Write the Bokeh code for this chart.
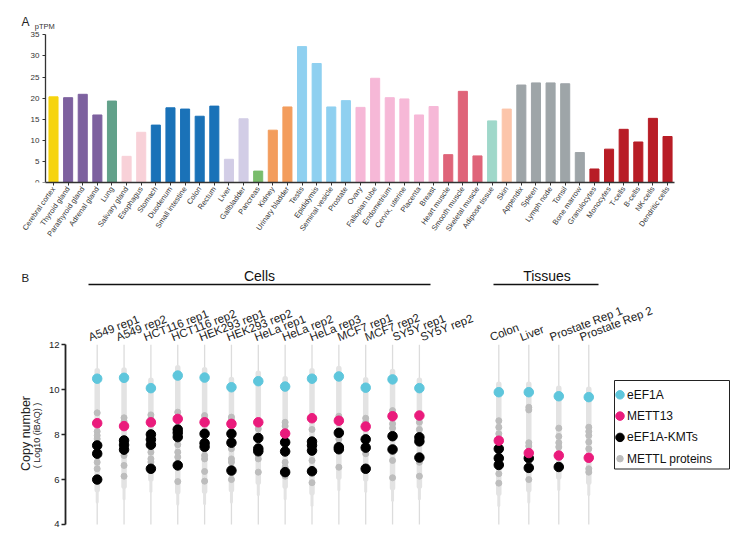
import math
from bokeh.plotting import figure
from bokeh.models import Range1d, FixedTicker, ColumnDataSource
from bokeh.layouts import column
from bokeh.embed import file_html
from bokeh.resources import INLINE
from bokeh.core.properties import value

# ---------------- Panel A data ----------------
tissues = ["Cerebral cortex", "Thyroid gland", "Parathyroid gland", "Adrenal gland", "Lung",
           "Salivary gland", "Esophagus", "Stomach", "Duodenum", "Small intestine", "Colon",
           "Rectum", "Liver", "Gallbladder", "Pancreas", "Kidney", "Urinary bladder", "Testis",
           "Epididymis", "Seminal vesicle", "Prostate", "Ovary", "Fallopian tube", "Endometrium",
           "Cervix, uterine", "Placenta", "Breast", "Heart muscle", "Smooth muscle",
           "Skeletal muscle", "Adipose tissue", "Skin", "Appendix", "Spleen", "Lymph node",
           "Tonsil", "Bone marrow", "Granulocytes", "Monocytes", "T-cells", "B-cells",
           "NK-cells", "Dendritic cells"]
ptpm = [20.3, 20.1, 20.9, 16.0, 19.3, 6.2, 11.9, 13.6, 17.7, 17.4, 15.7, 18.1, 5.5, 15.1, 2.7,
        12.4, 17.9, 32.2, 28.2, 17.9, 19.4, 17.8, 24.7, 20.1, 19.8, 16.0, 18.0, 6.6, 21.6, 6.3,
        14.6, 17.4, 23.1, 23.6, 23.6, 23.4, 7.1, 3.2, 7.9, 12.6, 9.6, 15.2, 10.9]
tissue_group = ["brain", "endocrine", "endocrine", "endocrine", "lung",
                "proximal digestive", "proximal digestive", "gi", "gi", "gi", "gi", "gi",
                "liver", "liver", "pancreas", "kidney", "kidney", "male", "male", "male", "male",
                "female", "female", "female", "female", "female", "female",
                "muscle", "muscle", "muscle", "adipose", "skin",
                "lymphoid", "lymphoid", "lymphoid", "lymphoid", "lymphoid",
                "blood", "blood", "blood", "blood", "blood", "blood"]
a_ticks = [0, 5, 10, 15, 20, 25, 30, 35]

# ---------------- Panel B data ----------------
cell_samples = ["A549 rep1", "A549 rep2", "HCT116 rep1", "HCT116 rep2", "HEK293 rep1",
                "HEK293 rep2", "HeLa rep1", "HeLa rep2", "HeLa rep3", "MCF7 rep1",
                "MCF7 rep2", "SY5Y rep1", "SY5Y rep2"]
tissue_samples = ["Colon", "Liver", "Prostate Rep 1", "Prostate Rep 2"]
eef1a = [10.49, 10.53, 10.07, 10.63, 10.54, 10.11, 10.38, 10.14, 10.49, 10.59, 10.09, 10.46,
         10.07, 9.89, 9.89, 9.71, 9.67]
mett13 = [8.51, 8.38, 8.55, 8.70, 8.55, 8.48, 8.55, 8.05, 8.73, 8.62, 8.36, 8.82, 8.85,
          7.73, 7.18, 7.07, 6.97]
kmts = [[7.52, 7.15, 6.00], [7.74, 7.54, 7.33], [8.01, 7.78, 7.55, 6.48],
        [8.23, 8.08, 7.89, 6.63], [8.04, 7.62, 7.46], [8.04, 7.64, 6.40],
        [7.85, 7.38, 7.26], [7.66, 7.25, 6.33], [7.69, 7.52, 7.29, 6.37],
        [8.08, 7.44, 7.35], [7.79, 7.42, 6.48], [7.93, 7.34], [7.88, 7.70, 6.98],
        [7.37, 6.95, 6.65], [6.95, 6.52], [6.56], []]
mettl = [[8.97, 8.14, 7.96, 7.81, 7.30, 6.77, 6.48], [8.75, 8.60, 7.07, 6.63, 6.15],
         [8.88, 8.70, 7.22, 6.92, 6.78], [9.00, 7.55, 7.22, 7.00, 5.91],
         [8.85, 8.70, 7.07, 6.92, 6.36, 5.93], [8.78, 8.65, 7.37, 6.92, 6.78, 6.00],
         [8.26, 7.10, 6.92, 6.33], [8.55, 8.38, 6.77, 6.55, 6.15], [8.23, 6.85, 5.86],
         [8.82, 7.80, 6.55], [8.73, 8.55, 7.15], [9.07, 8.48, 8.29, 6.85, 6.08],
         [8.55, 8.23, 6.77, 6.15], [8.62, 8.33, 8.04, 6.26, 5.84],
         [9.22, 9.10, 7.64, 7.49, 6.00], [8.29, 7.92, 7.64, 7.45],
         [8.33, 8.14, 7.96, 7.67, 7.37, 6.48, 6.33]]
b_ticks = [4, 6, 8, 10, 12]
legend_names = ["eEF1A", "METT13", "eEF1A-KMTs", "METTL proteins"]

# ---------------- styles ----------------
FONT = "Liberation Sans"
group_colors = {"brain": "#f6d40f", "endocrine": "#7d619f", "lung": "#62a18a",
                "proximal digestive": "#f8d1d8", "gi": "#1a72b8", "liver": "#d2cde6",
                "pancreas": "#7abd6c", "kidney": "#f39d5d", "male": "#8fd0f0",
                "female": "#f6b8d7", "muscle": "#df6479", "adipose": "#9fd8ca",
                "skin": "#fcc5aa", "lymphoid": "#9ea5a8", "blood": "#b81d26"}
C_EEF = "#5ec6dc"
C_METT = "#ea1b7c"
C_KMT = "#000000"
C_METTL = "#bdbdbd"

W = 750
PAGE_L = 0

# ================= Panel A =================
A_TOP, A_H, A_BB = 0, 248, 66
A_FRAME_BOTTOM = A_TOP + A_H - A_BB
AX0, ADX, ADY = 53.0, 14.62, 4.22


def ax(px):
    return (px - AX0) / ADX


def ay(py):
    return (A_FRAME_BOTTOM - py) / ADY


n = len(tissues)
pA = figure(width=W, height=A_H, output_backend="svg", toolbar_location=None,
            x_range=Range1d(ax(PAGE_L), ax(PAGE_L + W)), y_range=Range1d(0, ay(A_TOP)),
            min_border_left=0, min_border_right=0, min_border_top=0,
            min_border_bottom=A_BB)
srcA = ColumnDataSource(dict(x=list(range(n)), top=ptpm,
                             color=[group_colors[g] for g in tissue_group]))
pA.vbar(x="x", top="top", width=0.62, color="color", source=srcA)
pA.xgrid.visible = False
pA.ygrid.visible = False
pA.outline_line_color = None

pA.xaxis.ticker = FixedTicker(ticks=list(range(n)))
pA.xaxis.major_label_overrides = {i: t for i, t in enumerate(tissues)}
pA.xaxis.major_label_orientation = math.radians(55)
pA.xaxis.bounds = (ax(45), ax(674))
pA.yaxis.ticker = FixedTicker(ticks=a_ticks)
pA.yaxis.bounds = (0, 35)
pA.yaxis.fixed_location = ax(45)
for axis in (pA.xaxis[0], pA.yaxis[0]):
    axis.axis_line_color = "#333333"
    axis.axis_line_width = 1.3
    axis.major_tick_line_color = "#333333"
    axis.major_tick_line_width = 1
    axis.major_tick_out = 3
    axis.major_tick_in = 0
    axis.minor_tick_line_color = None
    axis.major_label_text_font = FONT
    axis.major_label_text_color = "#333333"
pA.xaxis.major_label_text_font_size = "7.5px"
pA.xaxis.major_label_standoff = 2
pA.yaxis.major_label_text_font_size = "8px"
pA.yaxis.major_label_standoff = 3

pA.text(x=[ax(21)], y=[ay(21.7)], text=["A"], text_font=value(FONT), text_font_size="12px",
        text_color="#222222", text_align="left", text_baseline="alphabetic")
pA.text(x=[ax(34.3)], y=[ay(26)], text=["pTPM"], text_font=value(FONT),
        text_font_size="7.5px", text_color="#333333", text_align="left",
        text_baseline="alphabetic")

# ================= Panel B =================
B_TOP, B_H = A_TOP + A_H, 292
X0, DX = 96.7, 26.85     # pixel of first column, pixel per column
Y12, DY = 344.3, 22.46   # pixel of value 12, pixel per unit


def bx(px):
    return (px - X0) / DX


def by(py):
    return 12 - (py - Y12) / DY


pB = figure(width=W, height=B_H, output_backend="svg", toolbar_location=None,
            x_range=Range1d(bx(PAGE_L), bx(PAGE_L + W)),
            y_range=Range1d(by(B_TOP + B_H), by(B_TOP)),
            x_axis_location=None,
            min_border_left=0, min_border_right=0, min_border_top=0, min_border_bottom=0)
pB.xgrid.visible = False
pB.ygrid.visible = False
pB.outline_line_color = None

yax = pB.yaxis[0]
yax.bounds = (4, 12)
yax.fixed_location = bx(65)
yax.ticker = FixedTicker(ticks=b_ticks)
yax.axis_line_color = "#222222"
yax.axis_line_width = 1.8
yax.major_tick_line_color = "#222222"
yax.major_tick_line_width = 1.5
yax.major_tick_out = 4
yax.major_tick_in = 0
yax.minor_tick_line_color = None
yax.major_label_text_font = FONT
yax.major_label_text_font_size = "9.5px"
yax.major_label_text_color = "#222222"
yax.major_label_standoff = 2

samples = cell_samples + tissue_samples
t_start = bx(498.3)
xpos = [float(i) for i in range(len(cell_samples))] + \
       [t_start + 1.117 * j for j in range(len(tissue_samples))]

# violin-like background
vx, vtop, vbot, tbot = [], [], [], []
for i, x in enumerate(xpos):
    vals = [eef1a[i], mett13[i]] + kmts[i] + mettl[i]
    vx.append(x)
    vtop.append(max(vals) + 0.35)
    vbot.append(min(vals) - 0.45)
    tbot.append(min(vals) - 1.0)
pB.segment(x0=vx, x1=vx, y0=[4] * len(vx), y1=[12] * len(vx), line_color="#dcdcdc",
           line_width=1.3)
pB.segment(x0=vx, x1=vx, y0=tbot, y1=vbot, line_color="#e3e3e3", line_width=3,
           line_cap="round")
pB.segment(x0=vx, x1=vx, y0=vbot, y1=vtop, line_color="#e3e3e3", line_width=5.5,
           line_cap="round")

# dots
gx, gy = [], []
for i, x in enumerate(xpos):
    for v in mettl[i]:
        gx.append(x)
        gy.append(v)
pB.scatter(gx, gy, size=6, color=C_METTL)
kx, ky = [], []
for i, x in enumerate(xpos):
    for v in kmts[i]:
        kx.append(x)
        ky.append(v)
pB.scatter(kx, ky, size=9.5, color=C_KMT)
pB.scatter(xpos, mett13, size=9.5, color=C_METT)
pB.scatter(xpos, eef1a, size=9.5, color=C_EEF)

# column labels
lab_x = [i * 1.03 - 0.31 for i in range(len(cell_samples))] + \
        [xpos[len(cell_samples) + j] - 0.32 for j in range(len(tissue_samples))]
pB.text(x=lab_x, y=[by(337)] * len(samples), text=samples, angle=math.radians(21),
        text_font=value(FONT), text_font_size="11.5px", text_color="#222222",
        text_align="left", text_baseline="alphabetic")

# headers
pB.segment(x0=[bx(88), bx(493)], x1=[bx(430), bx(598)], y0=[by(284)] * 2, y1=[by(284)] * 2,
           line_color="#111111", line_width=1.5)
pB.text(x=[bx(259), bx(546.5)], y=[by(275.5)] * 2, text=["Cells", "Tissues"],
        text_font=value(FONT), text_font_size="14px", text_color="#111111",
        text_align="center", text_baseline="alphabetic")

# legend box
pB.quad(left=[bx(614)], right=[bx(729)], top=[by(380)], bottom=[by(468.5)],
        fill_color="white", line_color="#222222", line_width=1)
ly = [by(394.3 + k * 21.3) for k in range(4)]
pB.scatter([bx(619.5)] * 4, ly, size=[8.5, 8.5, 8.5, 6.5],
           color=[C_EEF, C_METT, C_KMT, C_METTL])
pB.text(x=[bx(626.5)] * 4, y=ly, text=legend_names, text_font=value(FONT),
        text_font_size="12px", text_color="#111111", text_align="left",
        text_baseline="middle")

# panel letter and axis title
pB.text(x=[bx(21)], y=[by(277.5)], text=["B"], text_font=value(FONT),
        text_font_size="11.5px", text_color="#222222", text_align="left",
        text_baseline="alphabetic")
pB.text(x=[bx(25.7), bx(36.7)], y=[by(433), by(435)],
        text=["Copy number", "( Log10 (iBAQ) )"], angle=math.pi / 2,
        text_font=value(FONT), text_font_size=["12.5px", "9px"], text_color="#222222",
        text_align="center", text_baseline="middle")

layout = column(pA, pB)
open("out.html", "w").write(file_html(layout, INLINE))
